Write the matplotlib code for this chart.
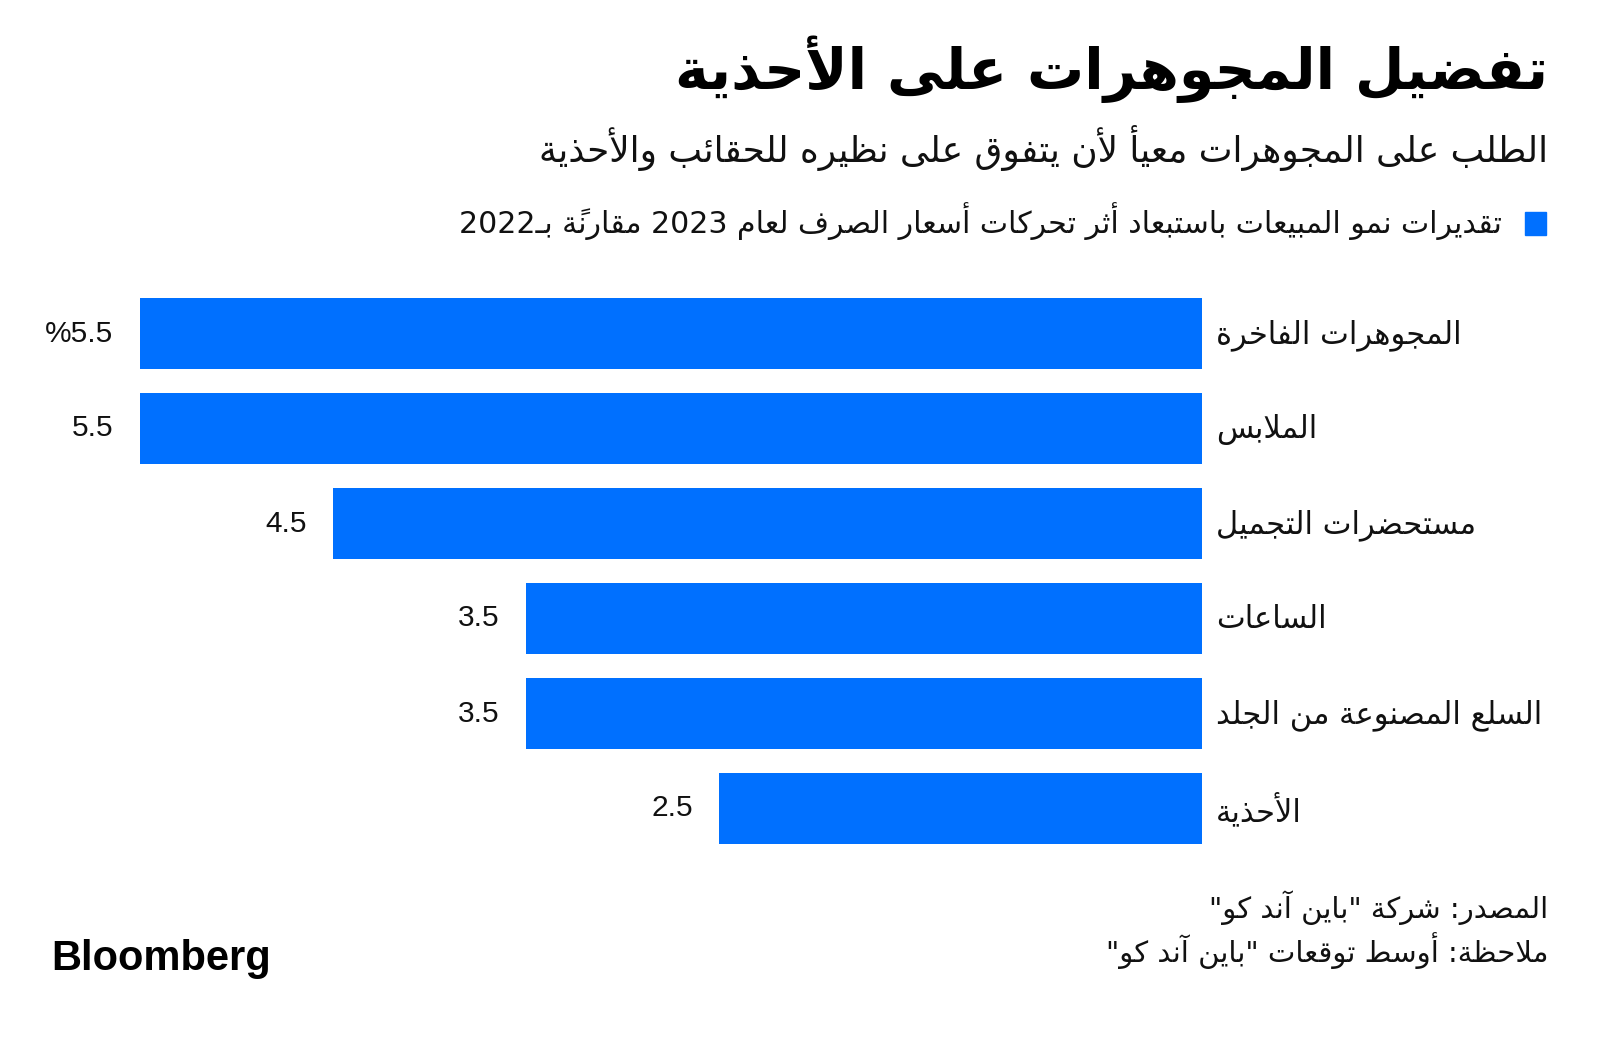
import matplotlib
matplotlib.use("Agg")
from matplotlib import pyplot as plt
from matplotlib.patches import Rectangle

# ---- data ----
title = "تفضيل المجوهرات على الأحذية"
subtitle = "الطلب على المجوهرات معيأ لأن يتفوق على نظيره للحقائب والأحذية"
legend_label = "تقديرات نمو المبيعات باستبعاد أثر تحركات أسعار الصرف لعام 2023 مقارنةً بـ2022"
categories = ["المجوهرات الفاخرة", "الملابس", "مستحضرات التجميل", "الساعات",
              "السلع المصنوعة من الجلد", "الأحذية"]
values = [5.5, 5.5, 4.5, 3.5, 3.5, 2.5]
value_labels = ["%5.5", "5.5", "4.5", "3.5", "3.5", "2.5"]
source = 'المصدر: شركة "باين آند كو"'
note = 'ملاحظة: أوسط توقعات "باين آند كو"'

BLUE = "#0070FF"
AR_FONT = "DejaVu Sans"
NUM_FONT = "Liberation Sans"

# ---- minimal arabic shaping (matplotlib has no complex text layout) ----
# isolated form in presentation forms B, and number of forms
FORMS = {
    'ء': (0xFE80, 1), 'آ': (0xFE81, 2), 'أ': (0xFE83, 2), 'ؤ': (0xFE85, 2),
    'إ': (0xFE87, 2), 'ئ': (0xFE89, 4), 'ا': (0xFE8D, 2), 'ب': (0xFE8F, 4),
    'ة': (0xFE93, 2), 'ت': (0xFE95, 4), 'ث': (0xFE99, 4), 'ج': (0xFE9D, 4),
    'ح': (0xFEA1, 4), 'خ': (0xFEA5, 4), 'د': (0xFEA9, 2), 'ذ': (0xFEAB, 2),
    'ر': (0xFEAD, 2), 'ز': (0xFEAF, 2), 'س': (0xFEB1, 4), 'ش': (0xFEB5, 4),
    'ص': (0xFEB9, 4), 'ض': (0xFEBD, 4), 'ط': (0xFEC1, 4), 'ظ': (0xFEC5, 4),
    'ع': (0xFEC9, 4), 'غ': (0xFECD, 4), 'ف': (0xFED1, 4), 'ق': (0xFED5, 4),
    'ك': (0xFED9, 4), 'ل': (0xFEDD, 4), 'م': (0xFEE1, 4), 'ن': (0xFEE5, 4),
    'ه': (0xFEE9, 4), 'و': (0xFEED, 2), 'ى': (0xFEEF, 2), 'ي': (0xFEF1, 4),
}
LAM_ALEF = {'آ': 0xFEF5, 'أ': 0xFEF7, 'إ': 0xFEF9, 'ا': 0xFEFB}
TATWEEL = 'ـ'
MARKS = set('\u064B\u064C\u064D\u064E\u064F\u0650\u0651\u0652')


def joins_next(c):
    if c.startswith('LA'):
        return False
    return c == TATWEEL or (c in FORMS and FORMS[c][1] == 4)


def joins_prev(c):
    if c.startswith('LA'):
        return True
    return c == TATWEEL or (c in FORMS and FORMS[c][1] > 1)


def shape(text):
    clusters = []
    for ch in text:
        if ch in MARKS and clusters:
            clusters[-1][1] += ch
        else:
            clusters.append([ch, ''])
    units = []
    i = 0
    while i < len(clusters):
        b, m = clusters[i]
        if b == 'ل' and i + 1 < len(clusters) and clusters[i + 1][0] in LAM_ALEF:
            units.append(['LA' + clusters[i + 1][0], m + clusters[i + 1][1]])
            i += 2
        else:
            units.append([b, m])
            i += 1
    out = []
    for i, (b, m) in enumerate(units):
        prev_link = i > 0 and joins_next(units[i - 1][0])
        if b.startswith('LA'):
            out.append(chr(LAM_ALEF[b[2]] + (1 if prev_link else 0)) + m)
            continue
        if b not in FORMS:
            out.append(b + m)
            continue
        base, n = FORMS[b]
        next_link = n == 4 and i + 1 < len(units) and joins_prev(units[i + 1][0])
        p = prev_link and n > 1
        if p and next_link:
            form = 3
        elif next_link:
            form = 2
        elif p:
            form = 1
        else:
            form = 0
        out.append(chr(base + form) + m)
    return out


def ar(text):
    runs = []
    for u in shape(text):
        ltr = u[0].isascii() and (u[0].isalnum() or u[0] in '.%')
        if runs and ltr and runs[-1][0]:
            runs[-1][1].append(u)
        else:
            runs.append([ltr, [u]])
    return ''.join(''.join(r[1]) for r in reversed(runs))


# ---- figure ----
W, H = 1600, 1037
fig = plt.figure(figsize=(W / 100, H / 100), dpi=100)
fig.patch.set_facecolor("white")


def fx(px):
    return px / W


def fy(py):
    return 1 - py / H


# bars: right edge at 1202px, 5.5 -> 140px, rows of 95px starting at 286px
ax = fig.add_axes([fx(140), fy(856), fx(1202 - 140), (856 - 286) / H])
ypos = list(range(len(categories)))
ax.barh(ypos, values, height=0.75, color=BLUE)
ax.set_xlim(5.5, 0)
ax.set_ylim(len(categories) - 0.5, -0.5)
ax.axis("off")

for i, (v, lab, cat) in enumerate(zip(values, value_labels, categories)):
    ax.annotate(lab, xy=(v, i), xytext=(-19, 0), textcoords="offset points",
                ha="right", va="center", fontsize=21.5, family=NUM_FONT,
                color="#111111")
    ax.annotate(ar(cat), xy=(0, i), xytext=(10, -1), textcoords="offset points",
                ha="left", va="center", fontsize=22, family=AR_FONT,
                color="#111111")

fig.text(fx(1548), fy(69), ar(title), ha="right", va="center", fontsize=41,
         fontweight="bold", family=AR_FONT, color="black")
fig.text(fx(1548), fy(148), ar(subtitle), ha="right", va="center", fontsize=25.8,
         family=AR_FONT, color="#111111")

fig.patches.append(Rectangle((fx(1525), fy(235)), fx(21), 23 / H,
                             transform=fig.transFigure, color=BLUE))
fig.text(fx(1502), fy(221), ar(legend_label), ha="right", va="center",
         fontsize=21.6, family=AR_FONT, color="#111111")

fig.text(fx(1548), fy(908), ar(source), ha="right", va="center", fontsize=21,
         family=AR_FONT, color="#111111")
fig.text(fx(1548), fy(951), ar(note), ha="right", va="center", fontsize=21,
         family=AR_FONT, color="#111111")

fig.text(fx(51), fy(959), "Bloomberg", ha="left", va="center", fontsize=30,
         fontweight="bold", family=NUM_FONT, color="black")

fig.savefig("out.png", dpi=100)
